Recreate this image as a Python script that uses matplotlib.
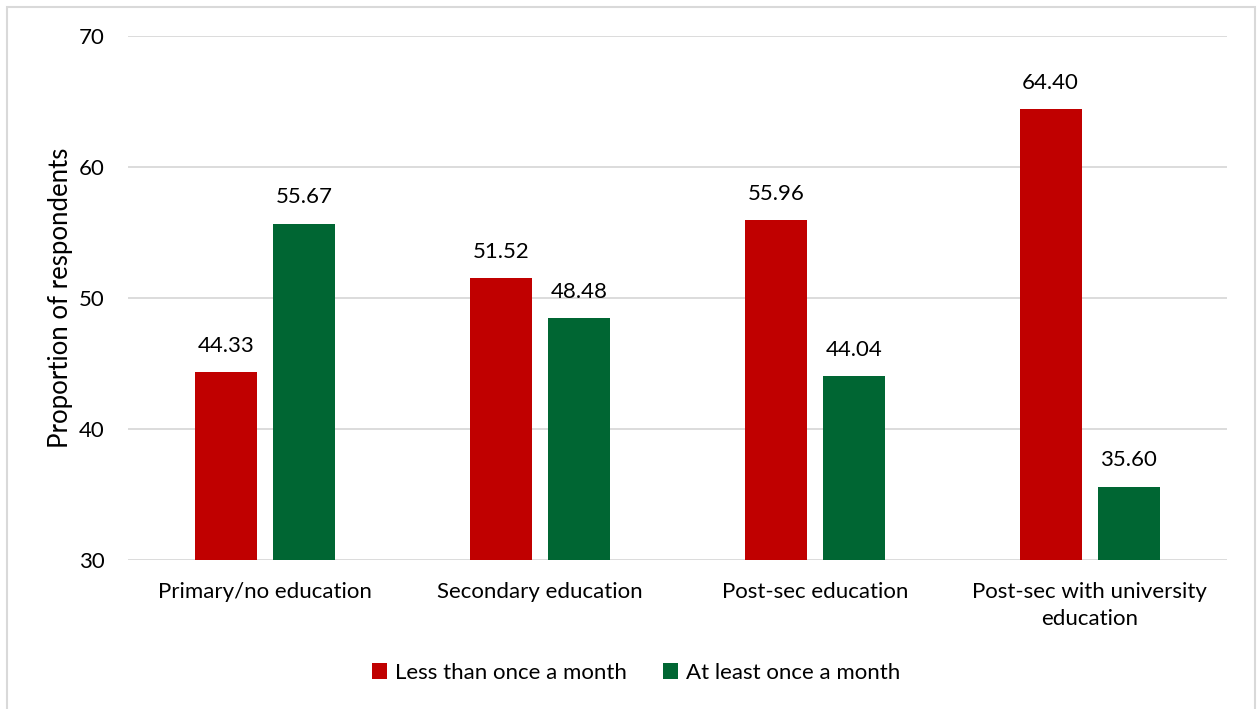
import matplotlib
matplotlib.use("Agg")
import matplotlib.pyplot as plt
from matplotlib.patches import Rectangle
import numpy as np

categories = ["Primary/no education", "Secondary education", "Post-sec education",
              "Post-sec with university\neducation"]
less_than_monthly = [44.33, 51.52, 55.96, 64.40]
at_least_monthly = [55.67, 48.48, 44.04, 35.60]
series_names = ["Less than once a month", "At least once a month"]
y_ticks = [30, 40, 50, 60, 70]

RED = "#C00000"
GREEN = "#006633"
GRID = "#D9D9D9"
TEXT = "#000000"

plt.rcParams["font.family"] = ["Lato", "DejaVu Sans"]
FS = 16

fig = plt.figure(figsize=(12.57, 7.09), dpi=100)
ax = fig.add_axes([0.1018, 0.2102, 0.8743, 0.7388])

x = np.arange(len(categories))
width = 0.226
offset = 0.142
b1 = ax.bar(x - offset, less_than_monthly, width, color=RED, label=series_names[0], zorder=3)
b2 = ax.bar(x + offset, at_least_monthly, width, color=GREEN, label=series_names[1], zorder=3)

for bars, vals in ((b1, less_than_monthly), (b2, at_least_monthly)):
    for rect, v in zip(bars, vals):
        ax.annotate(f"{v:.2f}", (rect.get_x() + rect.get_width() / 2, v),
                    xytext=(0, 19), textcoords="offset points",
                    ha="center", va="center", fontsize=FS, color=TEXT)

ax.set_xlim(-0.5, len(categories) - 0.5)
ax.set_ylim(30, 70)
ax.set_yticks(y_ticks)
ax.set_xticks(x)
ax.set_xticklabels(categories, fontsize=FS, color=TEXT, linespacing=1.45, va="top")
ax.tick_params(axis="y", labelsize=FS, colors=TEXT, length=0, pad=17)
ax.tick_params(axis="x", length=0, pad=16)
ax.yaxis.grid(True, color=GRID, linewidth=1.3, zorder=0)
for s in ax.spines.values():
    s.set_visible(False)
ax.set_ylabel("Proportion of respondents", fontsize=18.5, color=TEXT, labelpad=4)

leg = fig.legend(handles=[b1, b2], labels=series_names, loc="center",
                 bbox_to_anchor=(636 / 1257, 1 - 673 / 709), ncol=2, frameon=False,
                 fontsize=FS, handlelength=0.7, handleheight=0.7, handletextpad=0.35,
                 columnspacing=1.6)

fig.patches.append(Rectangle((7 / 1257, -0.01), (1255 - 7) / 1257, 1 - 7 / 709 + 0.01,
                             transform=fig.transFigure, fill=False,
                             edgecolor=GRID, linewidth=1.5))

fig.savefig("out.png", dpi=100, facecolor="white")
